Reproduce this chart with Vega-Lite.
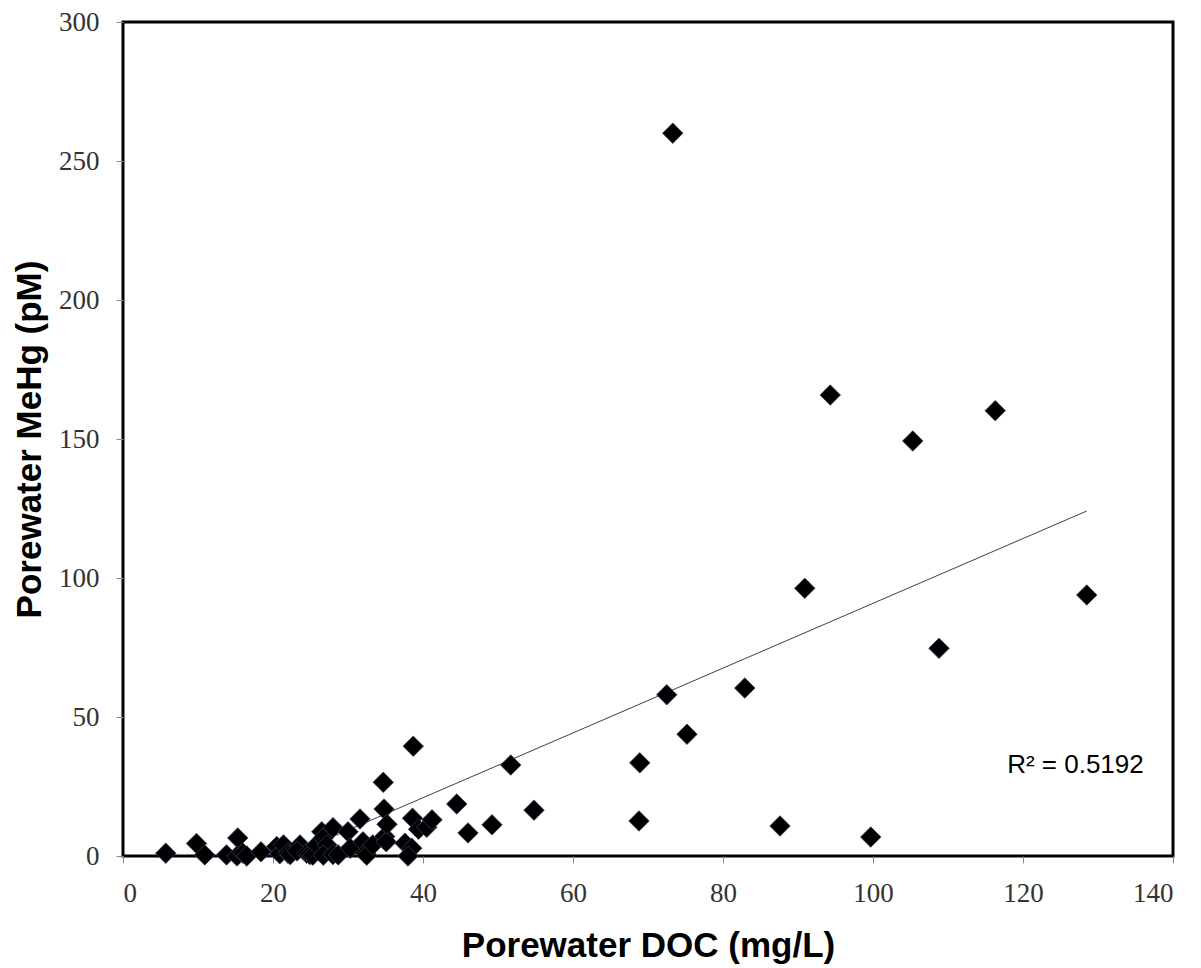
{
  "$schema": "https://vega.github.io/schema/vega-lite/v6.json",
  "width": 1050,
  "height": 834,
  "autosize": "none",
  "padding": {"left": 123, "top": 22, "right": 28, "bottom": 112},
  "background": "white",
  "config": {
    "view": {"stroke": "black", "strokeWidth": 3},
    "axis": {
      "grid": false,
      "domain": false,
      "tickColor": "#888888",
      "tickWidth": 1,
      "labelFont": "Liberation Serif",
      "labelFontSize": 27,
      "labelColor": "#333333",
      "titleFont": "Liberation Sans",
      "titleFontSize": 35,
      "titleFontWeight": "bold",
      "titleColor": "black"
    }
  },
  "datasets": {
    "pts": [
      {"doc": 5.7, "mehg": 1}, {"doc": 9.8, "mehg": 4.5}, {"doc": 10.9, "mehg": 0.4}, {"doc": 13.8, "mehg": 0.4},
      {"doc": 15.3, "mehg": 6.5}, {"doc": 15.2, "mehg": 0}, {"doc": 16, "mehg": 1}, {"doc": 16.5, "mehg": 0},
      {"doc": 18.4, "mehg": 1.5}, {"doc": 20.5, "mehg": 3.4}, {"doc": 20.9, "mehg": 0.8}, {"doc": 21.4, "mehg": 4},
      {"doc": 22, "mehg": 1}, {"doc": 22.3, "mehg": 0.5}, {"doc": 23.6, "mehg": 4}, {"doc": 23.2, "mehg": 1.8},
      {"doc": 24.5, "mehg": 1}, {"doc": 24.9, "mehg": 0.5}, {"doc": 25.3, "mehg": 0.3}, {"doc": 25.8, "mehg": 4},
      {"doc": 26.5, "mehg": 8.7}, {"doc": 26.7, "mehg": 6.5}, {"doc": 27.2, "mehg": 4}, {"doc": 26.7, "mehg": 0.3},
      {"doc": 28, "mehg": 10.2}, {"doc": 28, "mehg": 0.5}, {"doc": 28.7, "mehg": 0.4}, {"doc": 30, "mehg": 8.7},
      {"doc": 30.3, "mehg": 2.8}, {"doc": 31.6, "mehg": 13.3}, {"doc": 32, "mehg": 5.1}, {"doc": 32.3, "mehg": 1},
      {"doc": 32.5, "mehg": 0.3}, {"doc": 33.3, "mehg": 4}, {"doc": 34.8, "mehg": 16.9}, {"doc": 34.7, "mehg": 26.5},
      {"doc": 34.9, "mehg": 7}, {"doc": 35.1, "mehg": 5.1}, {"doc": 35.2, "mehg": 11.4}, {"doc": 37.6, "mehg": 4.6},
      {"doc": 38.5, "mehg": 2.8}, {"doc": 38, "mehg": 0}, {"doc": 38.6, "mehg": 13.6}, {"doc": 38.7, "mehg": 39.5},
      {"doc": 39.4, "mehg": 9.6}, {"doc": 40.5, "mehg": 10.3}, {"doc": 41.2, "mehg": 13}, {"doc": 44.5, "mehg": 18.7},
      {"doc": 46, "mehg": 8.3}, {"doc": 49.2, "mehg": 11.2}, {"doc": 51.7, "mehg": 32.7}, {"doc": 54.8, "mehg": 16.5},
      {"doc": 68.8, "mehg": 12.6}, {"doc": 68.9, "mehg": 33.5}, {"doc": 72.5, "mehg": 58}, {"doc": 73.3, "mehg": 260},
      {"doc": 75.2, "mehg": 43.8}, {"doc": 82.9, "mehg": 60.4}, {"doc": 87.6, "mehg": 10.8}, {"doc": 90.9, "mehg": 96.3},
      {"doc": 94.3, "mehg": 165.8}, {"doc": 99.7, "mehg": 6.8}, {"doc": 105.3, "mehg": 149.3}, {"doc": 108.8, "mehg": 74.7},
      {"doc": 116.3, "mehg": 160.2}, {"doc": 128.5, "mehg": 93.9}
    ],
    "trend": [
      {"doc": 5.7, "mehg": -19},
      {"doc": 128.5, "mehg": 124.1}
    ],
    "label": [
      {"doc": 136.1, "mehg": 32.7, "txt": "R² = 0.5192"}
    ]
  },
  "encoding": {
    "x": {
      "field": "doc", "type": "quantitative",
      "scale": {"domain": [0, 140], "nice": false, "zero": false},
      "axis": {
        "values": [0, 20, 40, 60, 80, 100, 120, 140],
        "title": "Porewater DOC (mg/L)",
        "tickSize": 7,
        "labelPadding": 17,
        "labelBaseline": "top",
        "titleBaseline": "alphabetic",
        "titleY": 100
      }
    },
    "y": {
      "field": "mehg", "type": "quantitative",
      "scale": {"domain": [0, 300], "nice": false, "zero": false},
      "axis": {
        "values": [0, 50, 100, 150, 200, 250, 300],
        "title": "Porewater MeHg (pM)",
        "tickSize": 7,
        "labelPadding": 17,
        "titleBaseline": "alphabetic",
        "titleX": -83
      }
    }
  },
  "layer": [
    {
      "data": {"name": "trend"},
      "mark": {"type": "line", "color": "#404040", "strokeWidth": 1, "clip": true},
      "encoding": {}
    },
    {
      "data": {"name": "pts"},
      "mark": {"type": "point", "shape": "diamond", "filled": true, "size": 420, "fill": "black", "stroke": "#34425e", "strokeWidth": 0.8, "opacity": 1}
    },
    {
      "data": {"name": "label"},
      "mark": {"type": "text", "align": "right", "baseline": "middle", "font": "Liberation Sans", "fontSize": 26, "color": "black"},
      "encoding": {"text": {"field": "txt"}}
    }
  ]
}
